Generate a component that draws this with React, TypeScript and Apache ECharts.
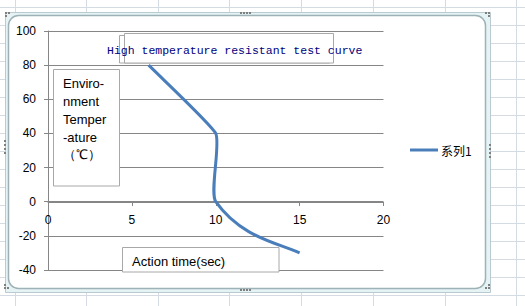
import { useEffect, useRef } from "react";
import * as echarts from "echarts";

const timeValues = [6, 10, 10, 15];
const tempValues = [80, 40, 0, -30];
const seriesName = "系列1";
const titleText = "High temperature resistant test curve";
const yAxisTitleLines = ["Enviro-", "nment", "Temper", "-ature", "（℃）"];
const xAxisTitle = "Action time(sec)";
const sheetColumnLines = [15, 86, 158, 229, 301, 373, 445, 516];
const sheetRowLines = [7, 25, 43, 61, 79, 97, 115, 133, 151, 169, 187, 205, 223, 241, 259, 277, 295];

// curve-shape tension (styling only): incoming / outgoing tangent factor per point
const tensionIn = [0, 0.06, 0.075, 0];
const tensionOut = [0, 0.075, 0.3, 0];

const AXIS_GRAY = "#868686";
const BOX_GRAY = "#A8A8A8";
const SERIES_BLUE = "#4A7EBB";

function dots(points: number[][]) {
  return points.map(([x, y]) => ({
    type: "rect",
    shape: { x, y, width: 2, height: 2 },
    style: { fill: "#7F7F7F" },
    z: 20,
    silent: true,
  }));
}

function smoothPath(p: number[][]): string {
  const n = p.length;
  const outCp: number[][] = [];
  const inCp: number[][] = [];
  for (let i = 1; i < n - 1; i++) {
    const vx = p[i + 1][0] - p[i - 1][0];
    const vy = p[i + 1][1] - p[i - 1][1];
    inCp[i] = [p[i][0] - vx * tensionIn[i], p[i][1] - vy * tensionIn[i]];
    outCp[i] = [p[i][0] + vx * tensionOut[i], p[i][1] + vy * tensionOut[i]];
  }
  // end points: blend of chord and direction to neighbouring control point
  const e = 0.3;
  const a0 = p[0], a1 = p[1];
  const ref0 = n > 2 ? inCp[1] : a1;
  outCp[0] = [
    a0[0] + e * ((a1[0] - a0[0]) + (ref0[0] - a0[0])) / 2,
    a0[1] + e * ((a1[1] - a0[1]) + (ref0[1] - a0[1])) / 2,
  ];
  const z0 = p[n - 1], z1 = p[n - 2];
  const refN = n > 2 ? outCp[n - 2] : z1;
  inCp[n - 1] = [
    z0[0] - e * ((z0[0] - z1[0]) + (z0[0] - refN[0])) / 2,
    z0[1] - e * ((z0[1] - z1[1]) + (z0[1] - refN[1])) / 2,
  ];
  let s = `M${p[0][0]},${p[0][1]}`;
  for (let i = 0; i < n - 1; i++) {
    const c1 = outCp[i];
    const c2 = inCp[i + 1];
    s += ` C${c1[0]},${c1[1]} ${c2[0]},${c2[1]} ${p[i + 1][0]},${p[i + 1][1]}`;
  }
  return s;
}

export default function App() {
  const ref = useRef<HTMLDivElement>(null);
  useEffect(() => {
    if (!ref.current) return;
    const chart = echarts.init(ref.current, undefined, { renderer: "svg" });
    const sheetLines: any[] = [];
    sheetColumnLines.forEach((x) =>
      sheetLines.push({
        type: "line",
        shape: { x1: x + 0.5, y1: 0, x2: x + 0.5, y2: 306 },
        style: { stroke: "#D4DBE3", lineWidth: 1 },
        z: -100,
        silent: true,
      })
    );
    sheetRowLines.forEach((y) =>
      sheetLines.push({
        type: "line",
        shape: { x1: 0, y1: y + 0.5, x2: 525, y2: y + 0.5 },
        style: { stroke: "#D4DBE3", lineWidth: 1 },
        z: -100,
        silent: true,
      })
    );
    const points = timeValues.map((t, i) => [t, tempValues[i]]);
    chart.setOption({
      animation: false,
      backgroundColor: "#ffffff",
      title: {
        text: titleText,
        left: 107,
        top: 44.5,
        padding: 0,
        z: 10,
        textStyle: {
          fontFamily: "Liberation Mono",
          fontSize: 11.5,
          fontWeight: "normal",
          color: "#000080",
        },
      },
      legend: {
        data: [{ name: seriesName, icon: "rect" }],
        left: 410,
        top: 144,
        padding: 0,
        itemWidth: 28,
        itemHeight: 3,
        itemStyle: { color: SERIES_BLUE },
        textStyle: { fontFamily: "Noto Sans CJK SC", fontSize: 12, color: "#000", padding: [0, 0, 0, -2] },
      },
      grid: { left: 48, right: 141.5, top: 31, bottom: 36, containLabel: false },
      xAxis: {
        type: "value",
        min: 0,
        max: 20,
        interval: 5,
        offset: -68,
        axisLine: { show: true, onZero: false, lineStyle: { color: AXIS_GRAY, width: 1 } },
        axisTick: { show: true, length: 4, lineStyle: { color: AXIS_GRAY } },
        axisLabel: { color: "#000", fontSize: 12, fontFamily: "Liberation Sans", margin: 12 },
        splitLine: { show: false },
      },
      yAxis: {
        type: "value",
        min: -40,
        max: 100,
        interval: 20,
        axisLine: { show: true, onZero: false, lineStyle: { color: AXIS_GRAY, width: 1 } },
        axisTick: { show: true, length: 4, lineStyle: { color: AXIS_GRAY } },
        axisLabel: { color: "#000", fontSize: 12, fontFamily: "Liberation Sans", margin: 12 },
        splitLine: { show: true, lineStyle: { color: AXIS_GRAY, width: 1 } },
      },
      series: [
        {
          type: "custom",
          name: seriesName,
          data: points,
          itemStyle: { color: SERIES_BLUE },
          z: 3,
          renderItem: (params: any, api: any) => {
            if (params.dataIndex !== 0) return null;
            const px = points.map((pt) => api.coord(pt));
            return {
              type: "path",
              shape: { pathData: smoothPath(px) },
              style: { fill: "none", stroke: SERIES_BLUE, lineWidth: 3 },
            };
          },
        },
      ],
      graphic: [
        ...sheetLines,
        {
          type: "rect",
          shape: { x: 5.5, y: 12.5, width: 485, height: 280 },
          style: { fill: "#E6F3F5", stroke: "#B9CBD0", lineWidth: 1 },
          z: -60,
          silent: true,
        },
        {
          type: "rect",
          shape: { x: 8.5, y: 15.5, width: 477, height: 273, r: 10 },
          style: { fill: "#ffffff", stroke: "#9DB1B6", lineWidth: 1.5 },
          z: -50,
          silent: true,
        },
        ...dots([
          [5, 12], [8, 12], [5, 15],
          [485, 12], [488, 12], [488, 15],
          [4, 284], [4, 287], [7, 287],
          [488, 284], [485, 287], [488, 287],
          [240, 12], [243, 12], [246, 12], [249, 12],
          [240, 289], [243, 289], [246, 289], [249, 289],
          [4, 140], [4, 144], [4, 148], [4, 152],
          [489, 144], [489, 148], [489, 152], [489, 156],
        ]),
        {
          type: "rect",
          shape: { x: 119.5, y: 35.5, width: 210, height: 27.5 },
          style: { fill: "#ffffff", stroke: BOX_GRAY, lineWidth: 1 },
          z: 5,
          silent: true,
        },
        {
          type: "rect",
          shape: { x: 124.5, y: 33.5, width: 209, height: 29.5 },
          style: { fill: "#ffffff", stroke: BOX_GRAY, lineWidth: 1 },
          z: 6,
          silent: true,
        },
        {
          type: "rect",
          shape: { x: 53.5, y: 69.5, width: 66, height: 116.5 },
          style: { fill: "#ffffff", stroke: BOX_GRAY, lineWidth: 1 },
          z: 5,
          silent: true,
        },
        {
          type: "text",
          x: 63,
          y: 75,
          z: 7,
          silent: true,
          style: {
            text: yAxisTitleLines.join("\n"),
            fill: "#000",
            font: "13px 'Liberation Sans'",
            lineHeight: 17.75,
            align: "left",
            verticalAlign: "top",
          },
        },
        {
          type: "rect",
          shape: { x: 122.5, y: 247.5, width: 156.5, height: 24.5 },
          style: { fill: "#ffffff", stroke: BOX_GRAY, lineWidth: 1 },
          z: 5,
          silent: true,
        },
        {
          type: "text",
          x: 132,
          y: 261.5,
          z: 7,
          silent: true,
          style: {
            text: xAxisTitle,
            fill: "#000",
            font: "13px 'Liberation Sans'",
            align: "left",
            verticalAlign: "middle",
          },
        },
      ],
    });
    return () => chart.dispose();
  }, []);
  return (
    <div
      ref={ref}
      style={{ position: "absolute", left: 0, top: 0, width: 525, height: 306 }}
    />
  );
}
